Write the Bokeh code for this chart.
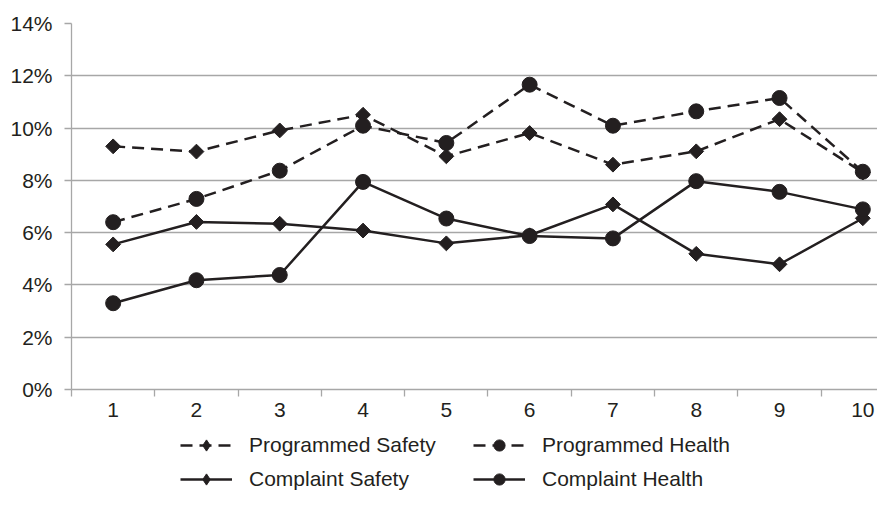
import numpy as np
from bokeh.plotting import figure
from bokeh.layouts import column
from bokeh.models import Range1d, FixedTicker, PrintfTickFormatter, Legend, LegendItem
from bokeh.embed import file_html
from bokeh.resources import INLINE

# ---- data ----
categories = [1, 2, 3, 4, 5, 6, 7, 8, 9, 10]
x_labels = ["1", "2", "3", "4", "5", "6", "7", "8", "9", "10"]
y_ticks = [0, 2, 4, 6, 8, 10, 12, 14]
programmed_safety = [9.30, 9.10, 9.91, 10.51, 8.92, 9.81, 8.60, 9.11, 10.34, 8.30]
programmed_health = [6.40, 7.29, 8.37, 10.09, 9.43, 11.66, 10.09, 10.64, 11.15, 8.33]
complaint_safety = [5.55, 6.41, 6.34, 6.08, 5.59, 5.90, 7.08, 5.19, 4.79, 6.55]
complaint_health = [3.30, 4.18, 4.38, 7.94, 6.54, 5.87, 5.78, 7.97, 7.56, 6.89]

INK = "#231f20"
GRID = "#a7a7a7"
FONT = "Liberation Sans"
FS = "21px"
LW = 2.5
DASH = "12 7"

# ---------------- main chart ----------------
p = figure(width=877, height=420, output_backend="svg", toolbar_location=None,
           x_range=Range1d(0.5, 10.176), y_range=Range1d(0, 14),
           min_border_left=71, min_border_right=0, min_border_top=23,
           min_border_bottom=31)
p.outline_line_color = None
p.border_fill_color = "white"

p.xgrid.visible = False
p.ygrid.grid_line_color = GRID
p.ygrid.grid_line_width = 1.3
p.ygrid.ticker = FixedTicker(ticks=y_ticks)

ya = p.yaxis[0]
ya.ticker = FixedTicker(ticks=y_ticks)
ya.formatter = PrintfTickFormatter(format="%d%%")
ya.axis_line_color = GRID
ya.axis_line_width = 1.3
ya.major_tick_line_color = GRID
ya.major_tick_line_width = 1.3
ya.major_tick_out = 7
ya.major_tick_in = 0
ya.minor_tick_line_color = None
ya.major_label_standoff = 12
ya.major_label_text_font = FONT
ya.major_label_text_font_size = FS
ya.major_label_text_color = INK

xa = p.xaxis[0]
xa.ticker = FixedTicker(ticks=categories, minor_ticks=[c - 0.5 for c in categories])
xa.major_label_overrides = {c: l for c, l in zip(categories, x_labels)}
xa.axis_line_color = GRID
xa.axis_line_width = 1.3
xa.major_tick_line_color = None
xa.major_tick_out = 0
xa.major_tick_in = 0
xa.minor_tick_line_color = GRID
xa.minor_tick_line_width = 1.3
xa.minor_tick_out = 7
xa.minor_tick_in = 0
xa.major_label_standoff = 6
xa.major_label_text_font = FONT
xa.major_label_text_font_size = FS
xa.major_label_text_color = INK


def series(fig, vals, dashed, marker, for_legend=False):
    ln = fig.line(categories, vals, line_color=INK, line_width=LW,
                  line_dash=DASH if dashed else "solid")
    if marker == "diamond":
        if for_legend:
            mk = fig.scatter(categories, vals, marker="diamond", size=12,
                             fill_color=INK, line_color=INK)
        else:
            mk = fig.scatter(categories, vals, marker="square", size=10.5,
                             angle=np.pi / 4, fill_color=INK, line_color=INK)
    else:
        mk = fig.scatter(categories, vals, marker="circle", size=15,
                         fill_color=INK, line_color=INK)
    return [ln, mk]


series(p, programmed_safety, True, "diamond")
series(p, programmed_health, True, "circle")
series(p, complaint_safety, False, "diamond")
series(p, complaint_health, False, "circle")

# ---------------- legend strip ----------------
q = figure(width=877, height=73, output_backend="svg", toolbar_location=None,
           x_range=Range1d(100, 101), y_range=Range1d(100, 101),
           x_axis_location=None, y_axis_location=None,
           min_border_left=0, min_border_right=0, min_border_top=0,
           min_border_bottom=0)
q.outline_line_color = None
q.grid.visible = False
q.border_fill_color = "white"

q_ps = series(q, programmed_safety, True, "diamond", True)
q_ph = series(q, programmed_health, True, "circle", True)
q_cs = series(q, complaint_safety, False, "diamond", True)
q_ch = series(q, complaint_health, False, "circle", True)


def make_legend(items, x):
    lg = Legend(items=items, location=(x, 0), orientation="vertical",
                padding=0, margin=0, spacing=6,
                glyph_width=52, glyph_height=28, label_height=21,
                label_standoff=17,
                label_text_font=FONT, label_text_font_size=FS,
                label_text_color=INK,
                border_line_color=None, background_fill_alpha=0)
    q.add_layout(lg, "center")


make_legend([LegendItem(label="Programmed Safety", renderers=q_ps),
             LegendItem(label="Complaint Safety", renderers=q_cs)], 109)
make_legend([LegendItem(label="Programmed Health", renderers=q_ph),
             LegendItem(label="Complaint Health", renderers=q_ch)], 402)

layout = column(p, q, spacing=0)
open("out.html", "w").write(file_html(layout, INLINE))
